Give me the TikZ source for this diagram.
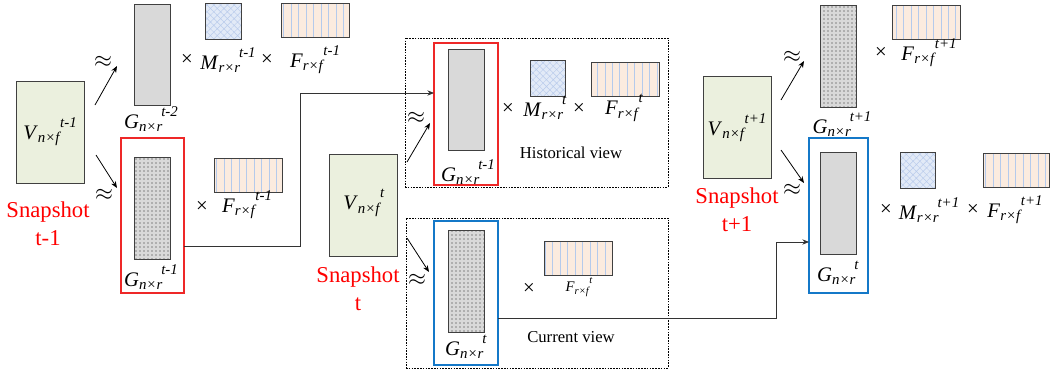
\documentclass[tikz,border=0pt]{standalone}
\usepackage{fontspec}
\setmainfont{Liberation Serif}
\usetikzlibrary{arrows.meta,patterns.meta}

\definecolor{vgreen}{RGB}{235,240,222}
\definecolor{gfill}{RGB}{217,217,217}
\definecolor{mfill}{RGB}{226,234,247}
\definecolor{mline}{RGB}{185,203,235}
\definecolor{ffill}{RGB}{251,235,223}
\definecolor{fline}{RGB}{180,202,236}
\definecolor{snapred}{RGB}{255,0,0}
\definecolor{hlred}{RGB}{238,40,40}
\definecolor{hlblue}{RGB}{20,120,200}

% matrix label: letter, subscript, superscript
\newcommand{\mlab}[3]{\textit{#1}\raisebox{-0.16em}{\scalebox{0.72}{\textit{#2}}}\kern-0.05em\raisebox{0.58em}{\scalebox{0.72}{\textit{#3}}}}

\tikzset{every picture/.style={line width=0.75pt}}
\tikzset{
  box/.style={draw=black!75, inner sep=0pt, outer sep=0pt, line width=0.75pt},
  vmat/.style={box, fill=vgreen, minimum width=51pt, minimum height=76.5pt},
  gmat/.style={box, fill=gfill, minimum width=27pt, minimum height=76pt},
  dmat/.style={box, preaction={fill=gfill}, pattern={Dots[distance=3pt,radius=0.4pt]}, pattern color=black!85, minimum width=27pt, minimum height=76pt},
  mmat/.style={box, preaction={fill=mfill}, pattern={Hatch[angle=45,distance=3.6pt,line width=0.35pt]}, pattern color=mline, minimum width=26.5pt, minimum height=26.5pt},
  fmat/.style={box, preaction={fill=ffill}, pattern={Lines[angle=90,distance=5.6pt,line width=0.45pt]}, pattern color=fline, minimum width=51pt, minimum height=25.5pt},
  hred/.style={draw=hlred, line width=0.9pt, inner sep=0pt, outer sep=0pt},
  hblue/.style={draw=hlblue, line width=0.9pt, inner sep=0pt, outer sep=0pt},
  view/.style={draw, dash pattern=on 1.2pt off 0.9pt, line width=0.6pt, inner sep=0pt, outer sep=0pt},
  lbl/.style={inner sep=0pt, font=\fontsize{15.5}{18}\selectfont},
  slbl/.style={inner sep=0pt, font=\fontsize{11}{13}\selectfont},
  snap/.style={text=snapred, align=center, inner sep=0pt, font=\fontsize{17}{21}\selectfont},
  appr/.style={inner sep=0pt, font=\fontsize{19}{20}\selectfont},
  vtxt/.style={inner sep=0pt, font=\fontsize{12.5}{15}\selectfont},
  arr/.style={-{Stealth[length=5pt,width=4pt]}, line width=0.6pt},
  link/.style={draw=black!80, line width=0.75pt},
}

\begin{document}
\begin{tikzpicture}[x=0.75pt,y=0.75pt,yscale=-1,xscale=1]
\useasboundingbox (0,0) rectangle (1050,375);

% snapshot t-1
\node[vmat] (vA) at (50.5,132) {};
\node[lbl] (lvA) at (50,132) {\mlab{V}{n×f}{t-1}};
\node[snap] (sA) at (48,224) {Snapshot\\t-1};
\node[gmat] (gA1) at (152,55) {};
\node[lbl] (lgA1) at (151,119) {\mlab{G}{n×r}{t-2}};
\node[mmat] (mA) at (223.5,21.5) {};
\node[fmat] (fA1) at (315.5,20) {};
\node[lbl] (xA1) at (187,60) {×};
\node[lbl] (lmA) at (228,60) {\mlab{M}{r×r}{t-1}};
\node[lbl] (xA2) at (267,60) {×};
\node[lbl] (lfA1) at (315,60) {\mlab{F}{r×f}{t-1}};
\node[hred, minimum width=47.25pt, minimum height=116.25pt] (redA) at (152.5,215.5) {};
\node[dmat] (gA2) at (152,208.5) {};
\node[lbl] (lgA2) at (151,277) {\mlab{G}{n×r}{t-1}};
\node[fmat] (fA2) at (248,175) {};
\node[lbl] (xA3) at (202,207) {×};
\node[lbl] (lfA2) at (247,205) {\mlab{F}{r×f}{t-1}};
\node[appr] (apA1) at (103,62) {$\approx$};
\node[appr] (apA2) at (104,195) {$\approx$};
\coordinate (a1s) at (95,105);
\coordinate (a1e) at (117,66);
\coordinate (a2s) at (96,155);
\coordinate (a2e) at (117,188);
\draw[arr] (a1s) -- (a1e);
\draw[arr] (a2s) -- (a2e);

% snapshot t
\node[view, minimum width=197.25pt, minimum height=111.75pt] (histv) at (536.5,112.5) {};
\node[view, minimum width=196.5pt, minimum height=112.5pt] (curv) at (537,293) {};
\node[vmat] (vB) at (363,205) {};
\node[lbl] (lvB) at (364,203) {\mlab{V}{n×f}{t}};
\node[snap] (sB) at (358,289) {Snapshot\\t};
% historical view
\node[hred, minimum width=48pt, minimum height=106.5pt] (redB) at (466,114) {};
\node[gmat] (gB1) at (466,100) {};
\node[lbl] (lgB1) at (468,172) {\mlab{G}{n×r}{t-1}};
\node[mmat] (mB) at (548,78.5) {};
\node[fmat] (fB1) at (625,79) {};
\node[lbl] (xB1) at (508,109) {×};
\node[lbl] (lmB) at (545,108) {\mlab{M}{r×r}{t}};
\node[lbl] (xB2) at (579,109) {×};
\node[lbl] (lfB1) at (624,108) {\mlab{F}{r×f}{t}};
\node[vtxt] (thist) at (571,153) {Historical view};
\node[appr] (apB1) at (416,118) {$\approx$};
% current view
\node[hblue, minimum width=48pt, minimum height=108pt] (blueB) at (466,293) {};
\node[dmat] (gB2) at (466,281.5) {};
\node[lbl] (lgB2) at (466,347) {\mlab{G}{n×r}{t}};
\node[fmat] (fB2) at (578,258) {};
\node[lbl] (xB3) at (529,289) {×};
\node[slbl] (lfB2) at (579,287) {\mlab{F}{r×f}{t}};
\node[vtxt] (tcur) at (571,337) {Current view};
\node[appr] (apB2) at (417,280) {$\approx$};
\coordinate (b1s) at (407,162);
\coordinate (b1e) at (430,123);
\coordinate (b2s) at (407,238);
\coordinate (b2e) at (429,272);
\draw[arr] (b1s) -- (b1e);
\draw[arr] (b2s) -- (b2e);

% snapshot t+1
\node[vmat] (vC) at (737,127.5) {};
\node[lbl] (lvC) at (737,128) {\mlab{V}{n×f}{t+1}};
\node[snap] (sC) at (737,210) {Snapshot\\t+1};
\node[dmat] (gC1) at (838,56.5) {};
\node[lbl] (lgC1) at (842,124) {\mlab{G}{n×r}{t+1}};
\node[fmat] (fC1) at (926,22) {};
\node[lbl] (xC1) at (881,53) {×};
\node[lbl] (lfC1) at (929,53) {\mlab{F}{r×f}{t+1}};
\node[hblue, minimum width=44.25pt, minimum height=116.25pt] (blueC) at (838.5,215.5) {};
\node[gmat] (gC2) at (838,203.5) {};
\node[lbl] (lgC2) at (838,273) {\mlab{G}{n×r}{t}};
\node[mmat] (mC) at (918,170.5) {};
\node[fmat, minimum width=49.5pt] (fC2) at (1016,170) {};
\node[lbl] (xC2) at (886,210) {×};
\node[lbl] (lmC) at (929,210) {\mlab{M}{r×r}{t+1}};
\node[lbl] (xC3) at (973,210) {×};
\node[lbl] (lfC2) at (1015,210) {\mlab{F}{r×f}{t+1}};
\node[appr] (apC1) at (792,57) {$\approx$};
\node[appr] (apC2) at (792,190) {$\approx$};
\coordinate (c1s) at (781,100);
\coordinate (c1e) at (804,61);
\coordinate (c2s) at (781,150);
\coordinate (c2e) at (804,183);
\draw[arr] (c1s) -- (c1e);
\draw[arr] (c2s) -- (c2e);

% links between snapshots
\coordinate (j1) at (300,246);
\coordinate (j2) at (300,93);
\draw[link,arr] (redA.east |- j1) -- (j1) |- (redB.west |- j2);
\coordinate (k1) at (776,318);
\coordinate (k2) at (776,242);
\draw[link,arr] (blueB.east |- k1) -- (k1) |- (blueC.west |- k2);

\end{tikzpicture}
\end{document}
